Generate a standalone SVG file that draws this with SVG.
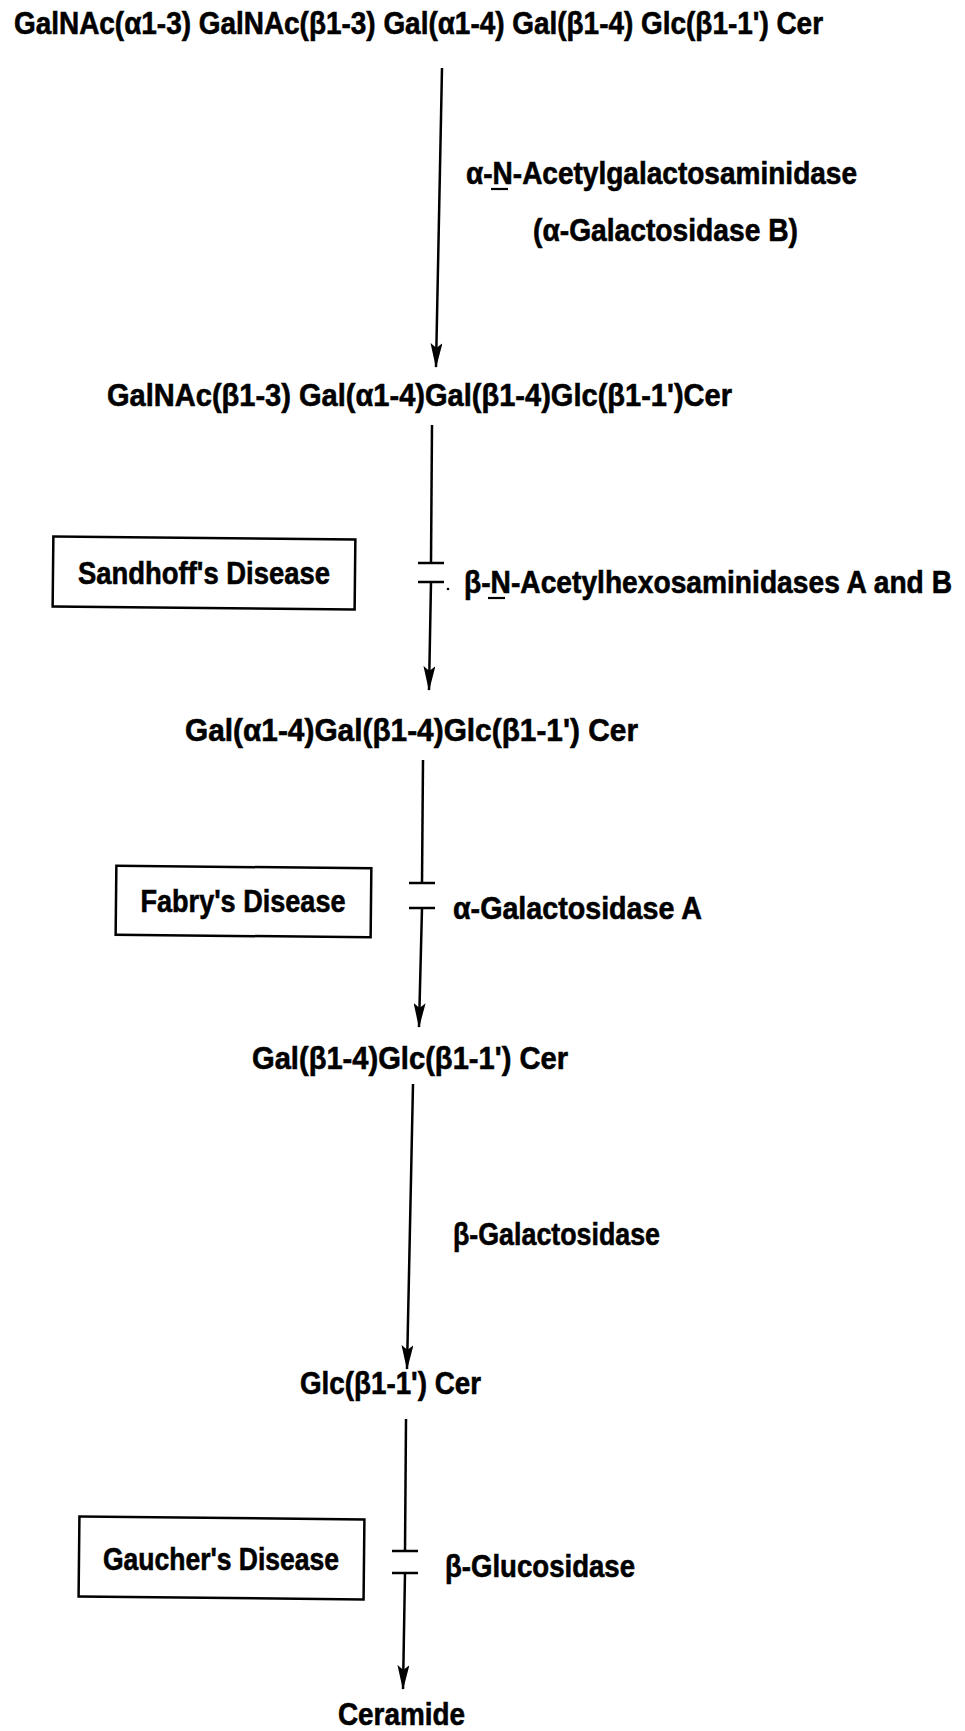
<svg xmlns="http://www.w3.org/2000/svg" width="965" height="1731" viewBox="0 0 965 1731">
<style>
text{font-family:"Liberation Sans",Arial,sans-serif;font-weight:bold;font-size:32px;fill:#000;stroke:#000;stroke-width:0.6}
.ln{stroke:#000;stroke-width:2.5;fill:none}
.ul{stroke:#000;stroke-width:2.2}
.box{stroke:#000;stroke-width:2.5;fill:#fff}
</style>
<defs>
<marker id="ah" markerUnits="userSpaceOnUse" markerWidth="26" markerHeight="12" refX="24" refY="6" orient="auto" viewBox="0 0 26 12">
<path d="M0,0 L25,6 L0,12 L5,6 Z" fill="#000"/>
</marker>
</defs>
<rect width="965" height="1731" fill="#fff"/>
<g id="n1"><text x="14" y="34" textLength="809" lengthAdjust="spacingAndGlyphs">GalNAc(α1-3) GalNAc(β1-3) Gal(α1-4) Gal(β1-4) Glc(β1-1') Cer</text></g>
<g id="e1"><text x="466" y="184" textLength="391" lengthAdjust="spacingAndGlyphs">α-N-Acetylgalactosaminidase</text><line class="ul" x1="491" y1="189" x2="508" y2="189"/>
<text x="533" y="241" textLength="265" lengthAdjust="spacingAndGlyphs">(α-Galactosidase B)</text></g>
<g id="n2"><text x="107" y="406" textLength="625" lengthAdjust="spacingAndGlyphs">GalNAc(β1-3) Gal(α1-4)Gal(β1-4)Glc(β1-1')Cer</text></g>
<g id="d1"><rect class="box" x="53" y="538" width="302" height="70" transform="rotate(0.6 204 573)"/><text x="204" y="584" text-anchor="middle" textLength="252" lengthAdjust="spacingAndGlyphs">Sandhoff's Disease</text></g>
<g id="e2"><text transform="translate(464 593) scale(0.8 1)" x="0" y="0" textLength="610" lengthAdjust="spacingAndGlyphs">β-N-Acetylhexosaminidases A and B</text><line class="ul" x1="488" y1="598" x2="505" y2="598"/><circle cx="448" cy="589" r="1.3" fill="#000"/></g>
<g id="n3"><text x="185" y="741" textLength="453" lengthAdjust="spacingAndGlyphs">Gal(α1-4)Gal(β1-4)Glc(β1-1') Cer</text></g>
<g id="d2"><rect class="box" x="116" y="867" width="255" height="69" transform="rotate(0.6 243 901)"/><text x="243" y="912" text-anchor="middle" textLength="205" lengthAdjust="spacingAndGlyphs">Fabry's Disease</text></g>
<g id="e3"><text x="453" y="919" textLength="249" lengthAdjust="spacingAndGlyphs">α-Galactosidase A</text></g>
<g id="n4"><text x="252" y="1069" textLength="316" lengthAdjust="spacingAndGlyphs">Gal(β1-4)Glc(β1-1') Cer</text></g>
<g id="e4"><text x="453" y="1245" textLength="207" lengthAdjust="spacingAndGlyphs">β-Galactosidase</text></g>
<g id="n5"><text x="300" y="1394" textLength="181" lengthAdjust="spacingAndGlyphs">Glc(β1-1') Cer</text></g>
<g id="d3"><rect class="box" x="79" y="1518" width="285" height="80" transform="rotate(0.6 221 1558)"/><text x="221" y="1570" text-anchor="middle" textLength="236" lengthAdjust="spacingAndGlyphs">Gaucher's Disease</text></g>
<g id="e5"><text x="445" y="1577" textLength="190" lengthAdjust="spacingAndGlyphs">β-Glucosidase</text></g>
<g id="n6"><text x="338" y="1725" textLength="127" lengthAdjust="spacingAndGlyphs">Ceramide</text></g>
<g id="connectors">
<line class="ln" x1="442" y1="68" x2="436" y2="367" marker-end="url(#ah)"/>
<line class="ln" x1="432" y1="425" x2="431" y2="563"/>
<line class="ln" x1="418" y1="563" x2="444" y2="563"/>
<line class="ln" x1="418" y1="582" x2="444" y2="582"/>
<line class="ln" x1="431" y1="582" x2="429" y2="690" marker-end="url(#ah)"/>
<line class="ln" x1="423" y1="760" x2="422" y2="883"/>
<line class="ln" x1="409" y1="883" x2="435" y2="883"/>
<line class="ln" x1="409" y1="908" x2="435" y2="908"/>
<line class="ln" x1="422" y1="908" x2="419" y2="1027" marker-end="url(#ah)"/>
<line class="ln" x1="413" y1="1084" x2="407" y2="1369" marker-end="url(#ah)"/>
<line class="ln" x1="406" y1="1419" x2="405" y2="1551"/>
<line class="ln" x1="392" y1="1551" x2="418" y2="1551"/>
<line class="ln" x1="392" y1="1573" x2="418" y2="1573"/>
<line class="ln" x1="405" y1="1573" x2="403" y2="1689" marker-end="url(#ah)"/>
</g>
</svg>
